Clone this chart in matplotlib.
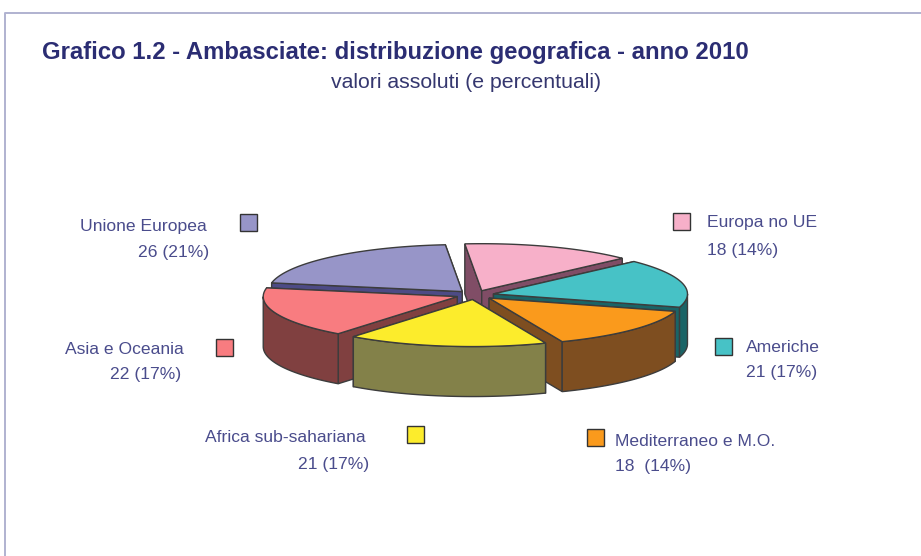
import numpy as np
import matplotlib
matplotlib.use('Agg')
import matplotlib.pyplot as plt
from matplotlib.patches import Polygon, Rectangle

title = 'Grafico 1.2 - Ambasciate: distribuzione geografica - anno 2010'
subtitle = 'valori assoluti (e percentuali)'

# clockwise from the top of the pie
names = ['Europa no UE', 'Americhe', 'Mediterraneo e M.O.', 'Africa sub-sahariana', 'Asia e Oceania', 'Unione Europea']
values = [18, 21, 18, 21, 22, 26]
pct = ['18 (14%)', '21 (17%)', '18  (14%)', '21 (17%)', '22 (17%)', '26 (21%)']
top_colors = ['#F7B0C9', '#47C2C6', '#FA9A1C', '#FCEC2C', '#F87C80', '#9795C8']
side_colors = ['#804D66', '#1A6466', '#7E4E20', '#838149', '#804040', '#4D4B85']

cx, cy = 475, 295
rx, ry = 194, 47
depth = 50
explode = 19
start = -5
draw_order = [5, 0, 1, 4, 2, 3]  # back to front

# square x, y, name x, name y, pct x, pct y, alignment
legend_pos = [
    (673, 213, 707, 223, 707, 250, 'left'),
    (715, 338, 746, 348, 746, 373, 'left'),
    (587, 429, 615, 441, 615, 466, 'left'),
    (407, 426, 366, 438, 369, 464, 'right'),
    (216, 339, 184, 349, 181, 375, 'right'),
    (240, 214, 207, 226, 209, 252, 'right'),
]
text_color = '#4A4C8C'
edge = '#3C3C3C'


def rim(x0, y0, t):
    t = np.radians(t)
    return x0 + rx * np.sin(t), y0 - ry * np.cos(t)


fig = plt.figure(figsize=(9.21, 5.56), dpi=100)
ax = fig.add_axes([0, 0, 1, 1])
ax.set_xlim(0, 921)
ax.set_ylim(556, 0)
ax.axis('off')

ax.plot([5, 5, 921], [556, 13, 13], color='#B0B2D0', lw=1.4)

ax.text(42, 52, title, fontsize=17.2, fontweight='bold', color='#2B2D73',
        family='Liberation Sans', va='center')
ax.text(466, 83, subtitle, fontsize=15.3, color='#35376F',
        family='Liberation Sans', va='center', ha='center')

angles = start + np.concatenate([[0], np.cumsum(values)]) / sum(values) * 360

for i in draw_order:
    t0, t1 = angles[i], angles[i + 1]
    mid = np.radians((t0 + t1) / 2)
    x0 = cx + explode * np.sin(mid)
    y0 = cy - explode * ry / rx * np.cos(mid)

    # radial walls, the one further back goes first
    walls = sorted([t0, t1], key=lambda t: rim(x0, y0, t)[1])
    for t in walls:
        px, py = rim(x0, y0, t)
        ax.add_patch(Polygon([(x0, y0), (px, py), (px, py + depth), (x0, y0 + depth)],
                             closed=True, fc=side_colors[i], ec=edge, lw=1))

    # outer wall, only the part that faces us
    a, b = max(t0, 90), min(t1, 270)
    if a < b:
        ts = np.linspace(a, b, 60)
        xs, ys = rim(x0, y0, ts)
        pts = list(zip(xs, ys)) + list(zip(xs[::-1], ys[::-1] + depth))
        ax.add_patch(Polygon(pts, closed=True, fc=side_colors[i], ec=edge, lw=1))

    ts = np.linspace(t0, t1, 80)
    xs, ys = rim(x0, y0, ts)
    pts = [(x0, y0)] + list(zip(xs, ys))
    ax.add_patch(Polygon(pts, closed=True, fc=top_colors[i], ec=edge, lw=1))

for i in range(len(names)):
    sx, sy, nx, ny, px, py, ha = legend_pos[i]
    ax.add_patch(Rectangle((sx, sy), 17, 17, fc=top_colors[i], ec='#333333', lw=1))
    ax.text(nx, ny, names[i], fontsize=12.6, color=text_color, ha=ha, va='center',
            family='Liberation Sans')
    ax.text(px, py, pct[i], fontsize=12.6, color=text_color, ha=ha, va='center',
            family='Liberation Sans')

fig.savefig('out.png', dpi=100)
